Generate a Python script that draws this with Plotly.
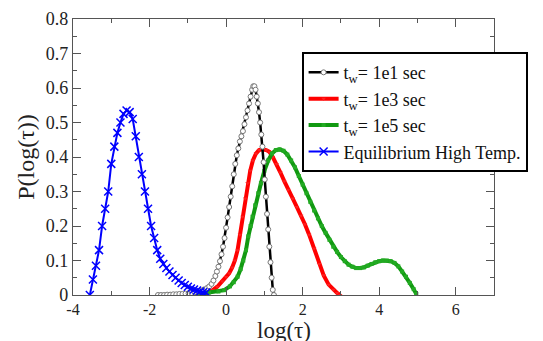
import plotly.graph_objects as go

# ---- data ----
blue_x = [-3.56, -3.48, -3.40, -3.32, -3.24, -3.16, -3.08, -3.00, -2.92, -2.84, -2.76, -2.68,
          -2.60, -2.52, -2.44, -2.36, -2.28, -2.20, -2.12, -2.04, -1.96, -1.88, -1.80, -1.72,
          -1.64, -1.56, -1.48, -1.40, -1.32, -1.24, -1.16, -1.08, -1.00, -0.92, -0.84, -0.76,
          -0.68, -0.60, -0.52]
blue_y = [0.0, 0.045, 0.085, 0.13, 0.2, 0.25, 0.3, 0.38, 0.43, 0.47, 0.5, 0.525,
          0.535, 0.53, 0.51, 0.46, 0.4, 0.35, 0.3, 0.25, 0.2, 0.165, 0.13, 0.105,
          0.09, 0.078, 0.068, 0.058, 0.05, 0.042, 0.035, 0.029, 0.024, 0.019, 0.016, 0.013,
          0.01, 0.008, 0.007]

black_x = [-1.78, -1.70, -1.62, -1.54, -1.46, -1.38, -1.30, -1.22, -1.14, -1.06, -0.98, -0.90,
           -0.82, -0.74, -0.66, -0.58, -0.50, -0.44, -0.38, -0.33, -0.28, -0.24, -0.20, -0.16,
           -0.12, -0.08, -0.04, 0.00, 0.04, 0.08, 0.12, 0.16, 0.20, 0.24, 0.28, 0.32,
           0.36, 0.40, 0.44, 0.48, 0.52, 0.56, 0.60, 0.64, 0.68, 0.71, 0.74, 0.77,
           0.80, 0.83, 0.86, 0.89, 0.92, 0.95, 0.98, 1.01, 1.04, 1.07, 1.10, 1.13,
           1.16, 1.19, 1.22, 1.25]
black_y = [0, 0, 0, 0.001, 0.001, 0.002, 0.002, 0.003, 0.003, 0.004, 0.005, 0.006,
           0.008, 0.010, 0.013, 0.016, 0.020, 0.025, 0.032, 0.042, 0.055, 0.068, 0.082, 0.098,
           0.118, 0.14, 0.165, 0.195, 0.225, 0.255, 0.285, 0.315, 0.35, 0.38, 0.405, 0.425,
           0.445, 0.46, 0.475, 0.495, 0.515, 0.535, 0.555, 0.575, 0.595, 0.605, 0.605, 0.595,
           0.575, 0.555, 0.53, 0.5, 0.465, 0.43, 0.385, 0.335, 0.285, 0.235, 0.19, 0.14,
           0.095, 0.05, 0.015, 0.0]

red_x = [-1.60, -1.40, -1.20, -1.00, -0.80, -0.65, -0.50, -0.35, -0.23, -0.10, 0.00, 0.08,
         0.16, 0.23, 0.30, 0.36, 0.43, 0.50, 0.56, 0.63, 0.70, 0.78, 0.86, 0.95,
         1.05, 1.13, 1.22, 1.32, 1.42, 1.52, 1.62, 1.74, 1.85, 1.96, 2.06, 2.17,
         2.30, 2.43, 2.55, 2.68, 2.80, 2.90, 2.98]
red_y = [0.0, 0.001, 0.002, 0.003, 0.004, 0.005, 0.006, 0.014, 0.024, 0.04, 0.052, 0.063,
         0.08, 0.10, 0.13, 0.175, 0.227, 0.28, 0.324, 0.36, 0.39, 0.41, 0.42, 0.422,
         0.42, 0.415, 0.40, 0.38, 0.355, 0.33, 0.305, 0.28, 0.255, 0.23, 0.205, 0.175,
         0.135, 0.09, 0.057, 0.03, 0.015, 0.006, 0.0]

green_x = [-1.60, -1.30, -1.00, -0.70, -0.45, -0.20, -0.05, 0.10, 0.20, 0.30, 0.38, 0.45,
           0.52, 0.58, 0.64, 0.69, 0.76, 0.84, 0.91, 1.00, 1.10, 1.20, 1.30, 1.40,
           1.50, 1.60, 1.70, 1.80, 1.90, 2.00, 2.10, 2.20, 2.30, 2.40, 2.50, 2.60,
           2.70, 2.80, 2.90, 3.00, 3.10, 3.20, 3.30, 3.40, 3.50, 3.60, 3.70, 3.80,
           3.90, 4.00, 4.10, 4.20, 4.30, 4.40, 4.50, 4.60, 4.70, 4.80, 4.90, 4.97]
green_y = [0.0, 0.001, 0.002, 0.004, 0.007, 0.01, 0.014, 0.025, 0.037, 0.053, 0.075, 0.10,
           0.13, 0.17, 0.20, 0.227, 0.26, 0.295, 0.324, 0.36, 0.39, 0.41, 0.42, 0.422,
           0.418, 0.407, 0.39, 0.37, 0.345, 0.32, 0.295, 0.27, 0.245, 0.222, 0.20, 0.18,
           0.16, 0.14, 0.125, 0.11, 0.098, 0.088, 0.082, 0.078, 0.078, 0.08, 0.085, 0.09,
           0.095, 0.098, 0.1, 0.1, 0.098, 0.093, 0.083, 0.068, 0.053, 0.035, 0.017, 0.003]

x_ticks = [-4, -2, 0, 2, 4, 6]
y_ticks = [0, 0.1, 0.2, 0.3, 0.4, 0.5, 0.6, 0.7, 0.8]
y_ticklabels = ["0", "0.1", "0.2", "0.3", "0.4", "0.5", "0.6", "0.7", "0.8"]

names = ["t<sub>w</sub>= 1e1 sec", "t<sub>w</sub>= 1e3 sec", "t<sub>w</sub>= 1e5 sec",
         "Equilibrium High Temp."]
x_title = "log(τ)"
y_title = "P(log(τ))"

FONT = "Liberation Serif, DejaVu Serif, serif"
AXC = "#555555"

fig = go.Figure()
fig.add_trace(go.Scatter(x=red_x, y=red_y, name=names[1], mode="lines+markers", legendrank=2,
                         line=dict(color="#ff0000", width=4),
                         marker=dict(symbol="triangle-down", size=4, color="#ff2020")))
fig.add_trace(go.Scatter(x=green_x, y=green_y, name=names[2], mode="lines+markers", legendrank=3,
                         line=dict(color="#119911", width=4),
                         marker=dict(symbol="square", size=4, color="#22aa22")))
fig.add_trace(go.Scatter(x=black_x, y=black_y, name=names[0], mode="lines+markers", legendrank=1,
                         line=dict(color="#000000", width=2.5),
                         marker=dict(symbol="circle", size=5, color="white",
                                     line=dict(color="#777777", width=1))))
fig.add_trace(go.Scatter(x=blue_x, y=blue_y, name=names[3], mode="lines+markers", legendrank=4,
                         line=dict(color="#0000ff", width=2),
                         marker=dict(symbol="x-thin", size=8,
                                     line=dict(color="#0000ff", width=1.5))))

fig.update_layout(
    width=543, height=341,
    margin=dict(l=73, r=49, t=19, b=46, autoexpand=False),
    paper_bgcolor="white", plot_bgcolor="white",
    font=dict(family=FONT, color="#222222", size=17),
    showlegend=True,
    legend=dict(x=0.543, y=0.88, xanchor="left", yanchor="top",
                bgcolor="white", bordercolor="black", borderwidth=2,
                font=dict(family=FONT, size=18, color="#111111"),
                tracegroupgap=0, itemwidth=30),
    annotations=[dict(text=x_title, xref="paper", yref="paper", x=0.5, y=0,
                      xanchor="center", yanchor="top", yshift=-21, showarrow=False,
                      font=dict(family=FONT, size=23, color="#222222"))],
)
fig.update_xaxes(range=[-4, 7], showgrid=False, zeroline=False,
                 showline=True, linecolor=AXC, linewidth=1.2, mirror="allticks",
                 ticks="inside", ticklen=8, tickcolor=AXC, tickwidth=1,
                 tickvals=x_ticks, ticktext=[str(v) for v in x_ticks],
                 minor=dict(ticks="inside", ticklen=4, dtick=1, tickcolor=AXC, showgrid=False),
                 tickfont=dict(family=FONT, size=16))
fig.update_yaxes(range=[0, 0.8], showgrid=False, zeroline=False,
                 showline=True, linecolor=AXC, linewidth=1.2, mirror="allticks",
                 ticks="inside", ticklen=8, tickcolor=AXC, tickwidth=1,
                 tickvals=y_ticks, ticktext=y_ticklabels,
                 minor=dict(ticks="inside", ticklen=4, dtick=0.05, tickcolor=AXC, showgrid=False),
                 title=dict(text=y_title, font=dict(family=FONT, size=24), standoff=4),
                 tickfont=dict(family=FONT, size=18))

fig.write_html("out.html")
